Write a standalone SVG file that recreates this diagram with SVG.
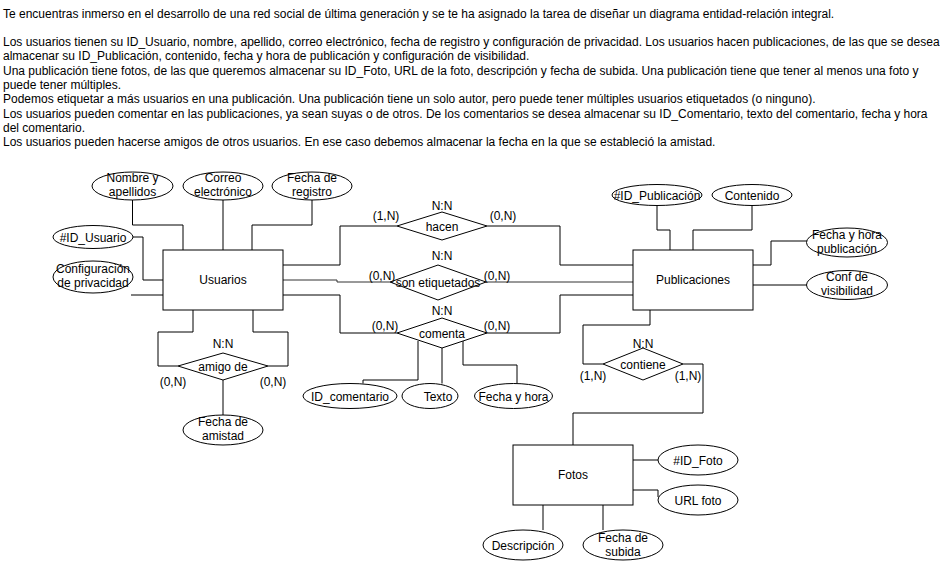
<svg xmlns="http://www.w3.org/2000/svg" width="940" height="561" viewBox="0 0 940 561">
<style>
text{font-family:"Liberation Sans",Arial,Helvetica,sans-serif;font-size:12px;fill:#000}
.m{text-anchor:middle}
.sh{fill:#fff;stroke:#000;stroke-width:1}
.ln{fill:none;stroke:#000;stroke-width:1}
.g{fill:none;stroke:#333;stroke-width:1}
</style>
<rect x="0" y="0" width="940" height="561" fill="#fff"/>
<g id="enunciado">
<text x="3" y="17.5">Te encuentras inmerso en el desarrollo de una red social de última generación y se te ha asignado la tarea de diseñar un diagrama entidad-relación integral.</text>
<text x="3" y="46">Los usuarios tienen su ID_Usuario, nombre, apellido, correo electrónico, fecha de registro y configuración de privacidad. Los usuarios hacen publicaciones, de las que se desea</text>
<text x="3" y="60.4">almacenar su ID_Publicación, contenido, fecha y hora de publicación y configuración de visibilidad.</text>
<text x="3" y="74.7">Una publicación tiene fotos, de las que queremos almacenar su ID_Foto, URL de la foto, descripción y fecha de subida. Una publicación tiene que tener al menos una foto y</text>
<text x="3" y="89">puede tener múltiples.</text>
<text x="3" y="103.3">Podemos etiquetar a más usuarios en una publicación. Una publicación tiene un solo autor, pero puede tener múltiples usuarios etiquetados (o ninguno).</text>
<text x="3" y="117.6">Los usuarios pueden comentar en las publicaciones, ya sean suyas o de otros. De los comentarios se desea almacenar su ID_Comentario, texto del comentario, fecha y hora</text>
<text x="3" y="131.9">del comentario.</text>
<text x="3" y="146.2">Los usuarios pueden hacerse amigos de otros usuarios. En ese caso debemos almacenar la fecha en la que se estableció la amistad.</text>
</g>
<g id="connectors">
<polyline class="ln" points="132.5,200 132.5,225 183,225 183,250"/>
<polyline class="ln" points="223,200 223,250"/>
<polyline class="ln" points="312,200 312,225 252,225 252,250"/>
<polyline class="ln" points="133,237 143,237 143,280 163,280"/>
<polyline class="ln" points="131,295 163,295"/>
<polyline class="ln" points="283,265 340,265 340,226 397,226"/>
<polyline class="ln" points="487,226 560,226 560,265 633,265"/>
<polyline class="g" points="283,280 337,280 337,282 390,282"/>
<polyline class="g" points="486,282 633,282"/>
<polyline class="ln" points="283,295 340,295 340,333 397,333"/>
<polyline class="ln" points="487,333 560,333 560,295 633,295"/>
<polyline class="ln" points="418,341 418,380 363,380 363,383.5"/>
<polyline class="ln" points="442,348 442,383.5"/>
<polyline class="ln" points="463,341 463,365 517,365 517,383.5"/>
<polyline class="ln" points="193,310 193,332 158,332 158,366 178,366"/>
<polyline class="ln" points="253,310 253,332 288,332 288,366 268,366"/>
<polyline class="ln" points="223,380 223,415"/>
<polyline class="ln" points="657,205.5 657,230 670,230 670,250"/>
<polyline class="ln" points="752,205.5 752,230 693,230 693,250"/>
<polyline class="ln" points="753,265 771,265 771,241 807,241"/>
<polyline class="ln" points="753,285 807,285"/>
<polyline class="ln" points="650,310 650,325 583,325 583,364 603,364"/>
<polyline class="ln" points="683,364 703,364 703,413 573,413 573,445"/>
<polyline class="ln" points="633,460 658,460"/>
<polyline class="ln" points="633,490 658,490 658,497"/>
<polyline class="ln" points="543,505 543,530"/>
<polyline class="ln" points="603,505 603,530"/>
</g>
<g id="Usuarios">
<rect class="sh" x="163" y="250" width="120" height="60"/>
<text class="m" x="223" y="284">Usuarios</text>
</g>
<g id="Publicaciones">
<rect class="sh" x="633" y="250" width="120" height="60"/>
<text class="m" x="693" y="284">Publicaciones</text>
</g>
<g id="Fotos">
<rect class="sh" x="513" y="445" width="120" height="60"/>
<text class="m" x="573" y="479">Fotos</text>
</g>
<g id="attr-nombre">
<ellipse class="sh" cx="132.5" cy="186" rx="40.5" ry="14"/>
<text class="m" x="132.5" y="182">Nombre y</text>
<text class="m" x="132.5" y="196">apellidos</text>
</g>
<g id="attr-correo">
<ellipse class="sh" cx="223" cy="186" rx="40" ry="14"/>
<text class="m" x="223" y="182">Correo</text>
<text class="m" x="223" y="196">electrónico</text>
</g>
<g id="attr-fecha-registro">
<ellipse class="sh" cx="312" cy="186" rx="40" ry="14"/>
<text class="m" x="312" y="182">Fecha de</text>
<text class="m" x="312" y="196">registro</text>
</g>
<g id="attr-id-usuario">
<ellipse class="sh" cx="93" cy="237" rx="40" ry="11.5"/>
<text class="m" x="93" y="241.5">#ID_Usuario</text>
</g>
<g id="attr-config-privacidad">
<ellipse class="sh" cx="93" cy="277" rx="40" ry="16"/>
<text class="m" x="93" y="273">Configuración</text>
<text class="m" x="93" y="287">de privacidad</text>
</g>
<g id="attr-id-publicacion">
<ellipse class="sh" cx="657" cy="195" rx="45" ry="10.5"/>
<text class="m" x="657" y="199.5">#ID_Publicación</text>
</g>
<g id="attr-contenido">
<ellipse class="sh" cx="752" cy="195" rx="40" ry="10.5"/>
<text class="m" x="752" y="199.5">Contenido</text>
</g>
<g id="attr-fecha-hora-pub">
<ellipse class="sh" cx="847" cy="242.5" rx="40.5" ry="14.5"/>
<text class="m" x="847" y="238.5">Fecha y hora</text>
<text class="m" x="847" y="252.5">publicación</text>
</g>
<g id="attr-conf-visibilidad">
<ellipse class="sh" cx="847" cy="285" rx="40.5" ry="14.5"/>
<text class="m" x="847" y="281">Conf de</text>
<text class="m" x="847" y="295">visibilidad</text>
</g>
<g id="attr-fecha-amistad">
<ellipse class="sh" cx="223" cy="430" rx="40" ry="15"/>
<text class="m" x="223" y="426">Fecha de</text>
<text class="m" x="223" y="440">amistad</text>
</g>
<g id="attr-id-comentario">
<ellipse class="sh" cx="350" cy="396" rx="47" ry="12.5"/>
<text class="m" x="350" y="400.5">ID_comentario</text>
</g>
<g id="attr-texto">
<ellipse class="sh" cx="430" cy="396" rx="28" ry="12.5"/>
<text class="m" x="438" y="400.5">Texto</text>
</g>
<g id="attr-fecha-hora">
<ellipse class="sh" cx="513.5" cy="396" rx="39" ry="12.5"/>
<text class="m" x="513.5" y="400.5">Fecha y hora</text>
</g>
<g id="attr-id-foto">
<ellipse class="sh" cx="698" cy="460" rx="40" ry="15"/>
<text class="m" x="698" y="464.5">#ID_Foto</text>
</g>
<g id="attr-url-foto">
<ellipse class="sh" cx="698" cy="500" rx="40" ry="15"/>
<text class="m" x="698" y="504.5">URL foto</text>
</g>
<g id="attr-descripcion">
<ellipse class="sh" cx="523" cy="545" rx="40" ry="15"/>
<text class="m" x="523" y="549.5">Descripción</text>
</g>
<g id="attr-fecha-subida">
<ellipse class="sh" cx="623" cy="545" rx="40" ry="15"/>
<text class="m" x="623" y="542">Fecha de</text>
<text class="m" x="623" y="556">subida</text>
</g>
<g id="rel-hacen">
<polygon class="sh" points="397,226 442,212 487,226 442,240"/>
<text class="m" x="442" y="230.5">hacen</text>
<text class="m" x="442" y="209.5">N:N</text>
<text class="m" x="386" y="219.5">(1,N)</text>
<text class="m" x="503" y="219.5">(0,N)</text>
</g>
<g id="rel-son-etiquetados">
<polygon class="sh" points="390,282 438,265 486,282 438,300"/>
<text class="m" x="438" y="286.5">son etiquetados</text>
<text class="m" x="442" y="259.5">N:N</text>
<text class="m" x="382" y="279.5">(0,N)</text>
<text class="m" x="497" y="279.5">(0,N)</text>
</g>
<g id="rel-comenta">
<polygon class="sh" points="397,333 442,318 487,333 442,348"/>
<text class="m" x="442" y="337.5">comenta</text>
<text class="m" x="442" y="314.5">N:N</text>
<text class="m" x="385" y="329.5">(0,N)</text>
<text class="m" x="497" y="329.5">(0,N)</text>
</g>
<g id="rel-amigo-de">
<polygon class="sh" points="178,366 223,353 268,366 223,380"/>
<text class="m" x="223" y="370.5">amigo de</text>
<text class="m" x="223" y="347.5">N:N</text>
<text class="m" x="173" y="385.5">(0,N)</text>
<text class="m" x="273" y="385.5">(0,N)</text>
</g>
<g id="rel-contiene">
<polygon class="sh" points="603,364 643,348 683,364 643,380"/>
<text class="m" x="643" y="368.5">contiene</text>
<text class="m" x="643" y="347.5">N:N</text>
<text class="m" x="593" y="379.5">(1,N)</text>
<text class="m" x="688" y="379.5">(1,N)</text>
</g>
</svg>
